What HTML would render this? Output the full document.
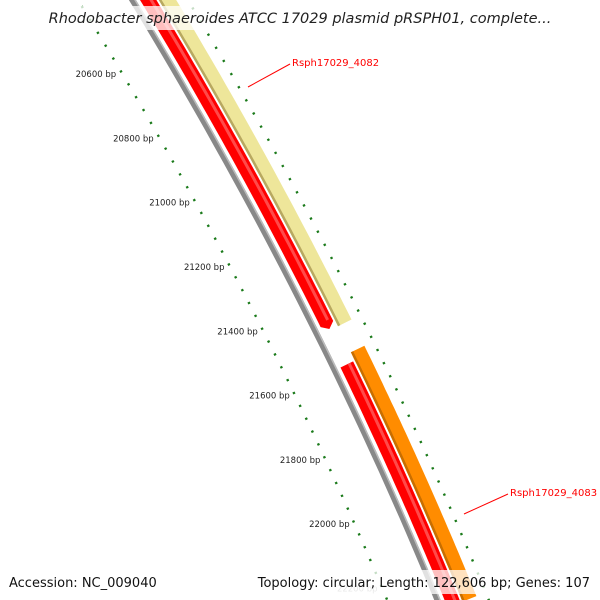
<!DOCTYPE html>
<html><head><meta charset="utf-8"><style>
html,body{margin:0;padding:0;background:#fff;overflow:hidden;}
svg{display:block;}
text{font-family:"DejaVu Sans","Liberation Sans",sans-serif;}
</style></head><body>
<svg id="chart" width="600" height="600" viewBox="0 0 600 600" xmlns="http://www.w3.org/2000/svg">
<g id="ticks"></g>
<g id="bands"></g>
<g id="labels"></g>
<g>
<rect x="55" y="6" width="490" height="24" fill="#fff" opacity="0.75"/>
<text x="300" y="23" text-anchor="middle" font-size="14.5" font-style="italic" fill="#222">Rhodobacter sphaeroides ATCC 17029 plasmid pRSPH01, complete...</text>
</g>
<g>
<rect x="0" y="570" width="600" height="24" fill="#fff" opacity="0.75"/>
<text x="9" y="587" font-size="13" fill="#111">Accession: NC_009040</text>
<text x="590" y="587" text-anchor="end" font-size="13" fill="#111">Topology: circular; Length: 122,606 bp; Genes: 107</text>
</g>
</svg>
<script>
// data
const tickLabels = [20600,20800,21000,21200,21400,21600,21800,22000,22200];
const geneNames = ["Rsph17029_4082","Rsph17029_4083"];
const geneStarts = [20300, 21545];
const geneEnds = [21421, 22400];
const cogStarts = [20300, 21520];
const cogEnds = [21440, 22400];
const cogColors = ["#eee69a","#ff8c00"];
const cogEdge = ["#b8a860","#c86e00"];

const NS="http://www.w3.org/2000/svg";
const A=133,B=0.6065,C=-0.0001635;
function gx(y){return A+B*y+C*y*y;}
function slope(y){return B+2*C*y;}
function bpToY(b){return 63+(b-20600)*0.325;}
function pt(y,d){const s=slope(y),L=Math.sqrt(1+s*s);return [gx(y)+d/L,y-d*s/L];}
function mk(tag,attrs,parent){const e=document.createElementNS(NS,tag);for(const k in attrs)e.setAttribute(k,attrs[k]);parent.appendChild(e);return e;}
function bandPath(y0,y1,d0,d1,arrow){
  let a=[],b=[];
  const n=40;
  for(let i=0;i<=n;i++){const y=y0+(y1-y0)*i/n;a.push(pt(y,d0));b.push(pt(y,d1));}
  let pts=a.slice();
  if(arrow){const t=pt(y1+5,(d0+d1)/2);pts.push(t);}
  pts=pts.concat(b.reverse());
  return "M"+pts.map(p=>p[0].toFixed(1)+","+p[1].toFixed(1)).join("L")+"Z";
}
const bands=document.getElementById('bands');
// backbone
let bb=mk('path',{d:bandPath(-10,610,-3.5,2.5,false),fill:'#888'},bands);


mk('path',{d:bandPath(-10,610,1,2.5,false),fill:'#bbb'},bands);
// genes
for(let i=0;i<geneNames.length;i++){
  const y0=Math.max(-10,bpToY(geneStarts[i])),y1=Math.min(610,bpToY(geneEnds[i]));
  const arrow=bpToY(geneEnds[i])<600;
  let g=mk('path',{d:bandPath(y0,y1,6,20,arrow),fill:'#f00'},bands);
  
  
  mk('path',{d:bandPath(y0,y1-(arrow?3:0),14,17,false),fill:'#ff4a4a'},bands);
  const c0=Math.max(-10,bpToY(cogStarts[i])),c1=Math.min(610,bpToY(cogEnds[i]));
  let c=mk('path',{d:bandPath(c0,c1,22,37,false),fill:cogColors[i]},bands);
  
  
  mk('path',{d:bandPath(c0,c1,22,24.5,false),fill:cogEdge[i]},bands);
}
// ticks
const tg=document.getElementById('ticks');
const shiftL=-22, shiftR=41;
for(let b=20100;b<=22500;b+=40){
  const major=(b%200===0);
  for(const side of [-1,1]){
    const y=bpToY(b)+(side<0?shiftL:shiftR);
    const base=side*47;
    const len=major?4:1.2;
    const p=pt(y,base-len),q=pt(y,base+len);
    let l=mk('line',{x1:p[0],y1:p[1],x2:q[0],y2:q[1],stroke:'#1a7a1a','stroke-width':2.2},tg);
    
    
  }
}
tickLabels.forEach((b,i)=>{
  const y=bpToY(b)+shiftL;const p=pt(y,-47);
  let t=mk('text',{x:p[0]-1,y:p[1]+12,'text-anchor':'end','font-size':'8.5',fill:(i===tickLabels.length-1)?'#aaa':'#222'},tg);
  t.textContent=b+' bp';
  
  
});
// gene labels
const lg=document.getElementById('labels');
const labPos=[[292,66,248,87],[510,496,464,514]];
geneNames.forEach((n,i)=>{
  const L=labPos[i];
  let ln=mk('line',{x1:L[0]-2,y1:L[1]-2,x2:L[2],y2:L[3],stroke:'#f00','stroke-width':1},lg);
  
  
  let t=mk('text',{x:L[0],y:L[1],'font-size':'10',fill:'#f00','font-family':'"DejaVu Sans Mono","Liberation Mono",monospace'},lg);
  t.textContent=n;
  
  
});
</script>
</body></html>
